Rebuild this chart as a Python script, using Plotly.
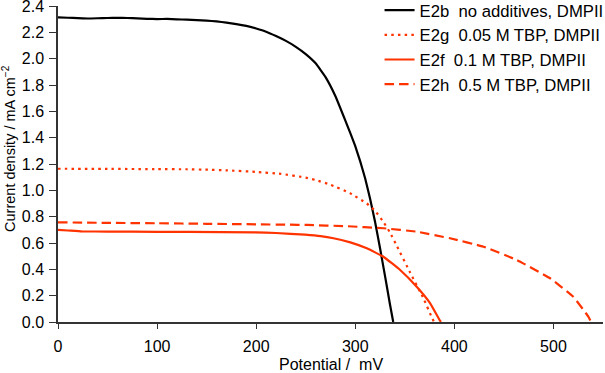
import plotly.graph_objects as go

# E2b: no additives, DMPII
e2b_x = [0, 10, 20, 30, 40, 50, 60, 70, 80, 90, 100, 110, 120, 130, 140, 150, 160, 170, 180, 190,
         200, 210, 220, 230, 240, 250, 260, 270, 280, 290, 295, 300, 305, 310, 315, 320, 325, 330,
         335, 338.3]
e2b_y = [2.314, 2.311, 2.308, 2.305, 2.307, 2.309, 2.311, 2.309, 2.306, 2.303, 2.301, 2.302, 2.299,
         2.296, 2.293, 2.289, 2.283, 2.274, 2.263, 2.249, 2.229, 2.205, 2.172, 2.135, 2.090, 2.035,
         1.965, 1.860, 1.715, 1.530, 1.435, 1.335, 1.220, 1.090, 0.935, 0.760, 0.560, 0.350, 0.135,
         0.0]

# E2g: 0.05 M TBP, DMPII
e2g_x = [0, 50, 100, 130, 150, 170, 200, 225, 250, 260, 275, 295, 311.6, 320, 328.4, 335, 341.8,
         355.4, 368.8, 377.2, 379.5]
e2g_y = [1.164, 1.163, 1.161, 1.160, 1.157, 1.152, 1.140, 1.125, 1.097, 1.078, 1.043, 0.977, 0.900,
         0.845, 0.760, 0.680, 0.580, 0.375, 0.180, 0.035, 0.0]

# E2f: 0.1 M TBP, DMPII
e2f_x = [0, 10, 24, 50, 100, 131.6, 199, 220, 249.4, 265, 278, 295, 311.6, 328.4, 345.3, 362,
         375.6, 385.5, 386.5]
e2f_y = [0.699, 0.695, 0.688, 0.687, 0.685, 0.684, 0.681, 0.676, 0.663, 0.652, 0.636, 0.605, 0.560,
         0.496, 0.395, 0.268, 0.142, 0.010, 0.0]

# E2h: 0.5 M TBP, DMPII
e2h_x = [0, 50, 100, 150, 200, 232.5, 251, 290, 328.4, 362, 395.6, 429.3, 463, 496.6, 520, 535.3, 538]
e2h_y = [0.757, 0.753, 0.750, 0.746, 0.742, 0.739, 0.737, 0.728, 0.712, 0.686, 0.636, 0.572, 0.471,
         0.332, 0.192, 0.040, 0.0]

names = ["E2b\u00a0\u00a0no additives, DMPII",
         "E2g\u00a0\u00a00.05 M TBP, DMPII",
         "E2f\u00a0\u00a00.1 M TBP, DMPII",
         "E2h\u00a0\u00a00.5 M TBP, DMPII"]

x_ticks = [0, 100, 200, 300, 400, 500]
y_ticks = [0.0, 0.2, 0.4, 0.6, 0.8, 1.0, 1.2, 1.4, 1.6, 1.8, 2.0, 2.2, 2.4]

x_title = "Potential /\u00a0\u00a0mV"
y_title = "Current density / mA cm<sup>\u22122</sup>"

RED = "#FF3300"
fig = go.Figure()
series = [
    (e2b_x, e2b_y, names[0], "black", "solid"),
    (e2g_x, e2g_y, names[1], RED, "2.5px,4.2px"),
    (e2f_x, e2f_y, names[2], RED, "solid"),
    (e2h_x, e2h_y, names[3], RED, "9.5px,5px"),
]
for i, (x, y, n, c, d) in enumerate(series):
    fig.add_trace(go.Scatter(x=x, y=y, name=n, mode="lines", legendgroup=f"g{i}",
                             line=dict(color=c, width=2.2, dash=d, shape="spline", smoothing=0.3)))

font = "Liberation Sans, Arial, sans-serif"
fig.update_layout(
    width=605, height=373,
    margin=dict(l=58, r=2, t=6, b=51, autoexpand=False),
    paper_bgcolor="white", plot_bgcolor="white",
    font=dict(family=font, size=16, color="black"),
    showlegend=True,
    legend=dict(x=0.590, xanchor="left", y=1.042, yanchor="top", bgcolor="rgba(0,0,0,0)",
                tracegroupgap=0, font=dict(size=16.7, family=font), itemwidth=30),
    xaxis=dict(range=[0, 550], tickmode="array", tickvals=x_ticks,
               ticktext=[str(v) for v in x_ticks], showgrid=False, zeroline=False,
               showline=True, linecolor="#333", linewidth=1.5, ticks="outside", ticklen=5,
               tickcolor="#333", ticklabelstandoff=4, automargin=False, ticklabeloverflow="allow"),
    yaxis=dict(range=[0, 2.4001], tickmode="array", tickvals=y_ticks,
               ticktext=[f"{v:.1f}" for v in y_ticks], showgrid=False,
               zeroline=False, showline=True, linecolor="#333", linewidth=1.5, ticks="outside",
               ticklen=7, tickcolor="#333", ticklabelstandoff=2, automargin=False,
               ticklabeloverflow="allow"),
    annotations=[
        dict(text=x_title, xref="paper", yref="paper", x=0.501, y=-0.133, xanchor="center",
             yanchor="middle", showarrow=False, font=dict(size=16)),
        dict(text=y_title, xref="paper", yref="paper", x=-0.091, y=0.549, xanchor="center",
             yanchor="middle", textangle=-90, showarrow=False, font=dict(size=14.5)),
    ],
)
fig.write_html("out.html", config={"displayModeBar": False},
               post_script="document.body.style.margin='0';document.body.style.padding='0';")
